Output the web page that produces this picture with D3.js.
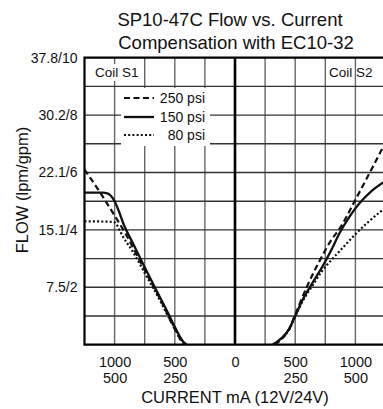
<!DOCTYPE html>
<html><head><meta charset="utf-8">
<script src="https://cdn.jsdelivr.net/npm/d3@7"></script>
<style>
html,body{margin:0;padding:0;background:#fff;}
text{font-family:"Liberation Sans",Arial,Helvetica,sans-serif;fill:#111;}
</style></head>
<body><svg id="c" width="383" height="409"></svg>
<script>
// ---- data (current in mA, flow in gpm) ----
const titleLines = ["SP10-47C Flow vs. Current", "Compensation with EC10-32"];
const yTickValues = [2, 4, 6, 8, 10];
const yTickLabels = ["7.5/2", "15.1/4", "22.1/6", "30.2/8", "37.8/10"];
const xTickValues = [-1000, -500, 0, 500, 1000];
const xTickLine1 = ["1000", "500", "0", "500", "1000"];
const xTickLine2 = ["500", "250", "", "250", "500"];
const legendLabels = ["250 psi", "150 psi", "80 psi"];

// Coil S1 (left side, current magnitude)
const s1Current250 = [1250, 1120, 1000, 900, 800, 700, 600, 520, 480, 450, 420];
const s1Flow250    = [6.1, 5.3, 4.5, 3.8, 3.0, 2.2, 1.42, 0.7, 0.38, 0.15, 0];
const s1Current150 = [1250, 1100, 1060, 1030, 1000, 960, 930, 850, 750, 650, 550, 500, 460, 430, 400];
const s1Flow150    = [5.3, 5.3, 5.27, 5.18, 5.0, 4.6, 4.25, 3.55, 2.7, 1.87, 1.05, 0.62, 0.3, 0.1, 0];
const s1Current80  = [1250, 1010, 985, 960, 935, 850, 750, 650, 550, 500, 460, 430, 410];
const s1Flow80     = [4.3, 4.28, 4.2, 4.0, 3.8, 3.25, 2.5, 1.75, 0.95, 0.58, 0.25, 0.08, 0];

// Coil S2 (right side)
const s2Current250 = [330, 400, 450, 500, 600, 700, 800, 870, 1000, 1120, 1250];
const s2Flow250    = [0, 0.25, 0.55, 1.05, 2.05, 2.9, 3.65, 4.05, 5.05, 6.0, 7.05];
const s2Current150 = [310, 380, 450, 500, 560, 650, 730, 800, 870, 950, 1000, 1060, 1120, 1250];
const s2Flow150    = [0, 0.2, 0.55, 1.0, 1.55, 2.2, 2.75, 3.3, 3.9, 4.45, 4.75, 5.05, 5.3, 5.7];
const s2Current80  = [320, 380, 450, 500, 560, 650, 720, 800, 900, 1000, 1100, 1250];
const s2Flow80     = [0, 0.2, 0.52, 0.98, 1.5, 2.1, 2.55, 2.95, 3.4, 3.85, 4.25, 4.78];

const svg = d3.select("#c");
const x = d3.scaleLinear().domain([-1250, 1250]).range([84.5, 385.5]);
const y = d3.scaleLinear().domain([0, 10]).range([344.7, 57.7]);

// title
svg.append("text").attr("x", 230).attr("y", 26).attr("text-anchor", "middle")
  .style("font-size", "18.5px").text(titleLines[0]);
svg.append("text").attr("x", 236).attr("y", 49).attr("text-anchor", "middle")
  .style("font-size", "18.5px").text(titleLines[1]);

// grid
const g = svg.append("g");
const vGrid = d3.range(-1000, 1251, 250).filter(d => d !== 0);
g.selectAll("line.v").data(vGrid).join("line")
  .attr("x1", d => x(d)).attr("x2", d => x(d))
  .attr("y1", y(10)).attr("y2", y(0))
  .attr("stroke", "#666").attr("stroke-width", 1.4);
const hGrid = d3.range(1, 10);
g.selectAll("line.h").data(hGrid).join("line")
  .attr("x1", x(-1250)).attr("x2", x(1250))
  .attr("y1", d => y(d)).attr("y2", d => y(d))
  .attr("stroke", "#333").attr("stroke-width", 1.4);

// white masks (Coil S1 label and legend)
svg.append("rect").attr("x", 93).attr("y", 64).attr("width", 47).attr("height", 17).attr("fill", "#fff");
svg.append("rect").attr("x", 121).attr("y", 88).attr("width", 89).attr("height", 58).attr("fill", "#fff");

// frame
svg.append("line").attr("x1", x(0)).attr("x2", x(0)).attr("y1", y(10)).attr("y2", y(0))
  .attr("stroke", "#000").attr("stroke-width", 2.6);
svg.append("path")
  .attr("d", `M${x(1250)},${y(10)}H${x(-1250)}V${y(0)}H${x(1250)}`)
  .attr("fill", "none").attr("stroke", "#000").attr("stroke-width", 2.2);

// coil labels
svg.append("text").attr("x", 95).attr("y", 76.5).style("font-size", "13.5px").text("Coil S1");
svg.append("text").attr("x", 329).attr("y", 76.5).style("font-size", "13.5px").text("Coil S2");

// curves
svg.append("clipPath").attr("id", "clip").append("rect")
  .attr("x", x(-1250)).attr("y", y(10)).attr("width", x(1250) - x(-1250)).attr("height", y(0) - y(10));
const line = d3.line().x(d => x(d[0])).y(d => y(d[1])).curve(d3.curveMonotoneX);
const styles = {
  "250": {dash: "6,3.5", w: 2.2},
  "150": {dash: null, w: 2.3},
  "80": {dash: "2,2.2", w: 2.2}
};
const series = [
  {p: "250", c: s1Current250.map(v => -v), f: s1Flow250},
  {p: "150", c: s1Current150.map(v => -v), f: s1Flow150},
  {p: "80",  c: s1Current80.map(v => -v),  f: s1Flow80},
  {p: "250", c: s2Current250, f: s2Flow250},
  {p: "150", c: s2Current150, f: s2Flow150},
  {p: "80",  c: s2Current80,  f: s2Flow80}
];
const cg = svg.append("g").attr("clip-path", "url(#clip)");
series.forEach(s => {
  const pts = s.c.map((c, i) => [c, s.f[i]]).sort((a, b) => a[0] - b[0]);
  cg.append("path").attr("d", line(pts)).attr("fill", "none")
    .attr("stroke", "#111").attr("stroke-width", styles[s.p].w)
    .attr("stroke-dasharray", styles[s.p].dash);
});

// legend
const legY = [98, 117, 135];
["250", "150", "80"].forEach((p, i) => {
  svg.append("line").attr("x1", 124).attr("x2", 154).attr("y1", legY[i]).attr("y2", legY[i])
    .attr("stroke", "#111").attr("stroke-width", styles[p].w).attr("stroke-dasharray", styles[p].dash);
  svg.append("text").attr("x", 205).attr("y", legY[i] + 5).attr("text-anchor", "end")
    .style("font-size", "14px").text(legendLabels[i]);
});

// y axis
const ya = svg.append("g").attr("transform", `translate(${x(-1250)},0)`)
  .call(d3.axisLeft(y).tickValues(yTickValues).tickSize(0).tickPadding(7)
    .tickFormat((d, i) => yTickLabels[i]));
ya.select(".domain").remove();
ya.selectAll("text").style("font-size", "14px").style("font-family", '"Liberation Sans",Arial,sans-serif').attr("fill", "#111");

// x axis
const xa = svg.append("g").attr("transform", `translate(0,${y(0)})`)
  .call(d3.axisBottom(x).tickValues(xTickValues).tickSize(0).tickFormat(""));
xa.select(".domain").remove();
xa.selectAll(".tick").each(function(d, i) {
  const t = d3.select(this);
  t.append("text").attr("y", 22).attr("text-anchor", "middle").style("font-size", "14.5px").text(xTickLine1[i]);
  t.append("text").attr("y", 38.5).attr("text-anchor", "middle").style("font-size", "14.5px").text(xTickLine2[i]);
});

// axis titles
svg.append("text").attr("x", 235).attr("y", 403).attr("text-anchor", "middle")
  .style("font-size", "16.5px").text("CURRENT mA (12V/24V)");
svg.append("text").attr("transform", "translate(28,190) rotate(-90)").attr("text-anchor", "middle")
  .style("font-size", "16.5px").text("FLOW (lpm/gpm)");
</script></body></html>
